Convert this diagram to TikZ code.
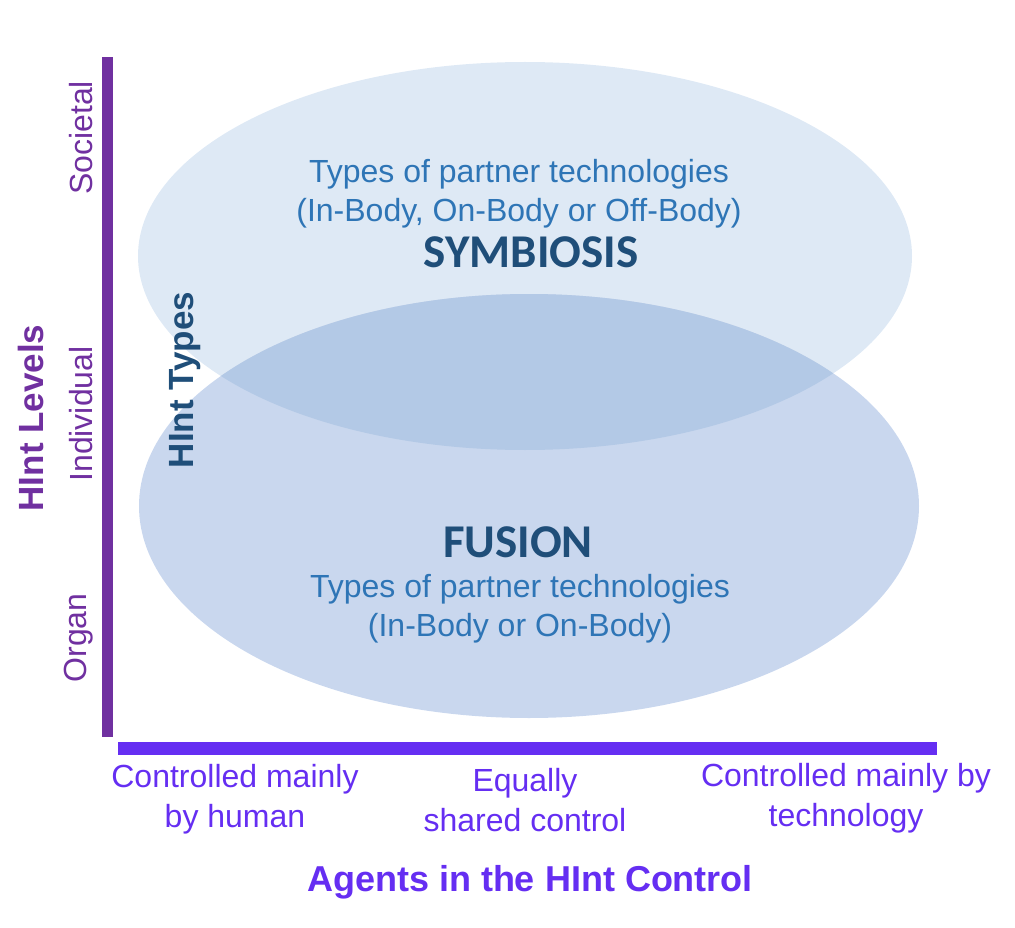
\documentclass[tikz,border=0pt]{standalone}
\usepackage{fontspec}
\setmainfont{Liberation Sans}
\newfontfamily\calib{Carlito}
\definecolor{vpurple}{HTML}{7030A0}
\definecolor{hviolet}{HTML}{652EF2}
\definecolor{topfill}{HTML}{DEE9F5}
\definecolor{botfill}{HTML}{C9D7EE}
\definecolor{ovfill}{HTML}{B3C9E6}
\definecolor{txtblue}{HTML}{2E75B6}
\definecolor{darkblue}{HTML}{1F4E79}
\tikzset{
  body/.style={text=txtblue, align=center, font=\fontsize{32}{39}\selectfont, inner sep=0pt},
  title/.style={text=darkblue, font=\calib\bfseries\fontsize{47}{50}\selectfont, inner sep=0pt},
  level/.style={text=vpurple, rotate=90, font=\fontsize{32}{36}\selectfont, inner sep=0pt},
  agent/.style={text=hviolet, align=center, font=\fontsize{32}{40}\selectfont, inner sep=0pt},
}
\begin{document}
\begin{tikzpicture}[x=1pt,y=-1pt]
\useasboundingbox (0,0) rectangle (1015,928);
% ellipses
\fill[topfill] (525,256) ellipse [x radius=387, y radius=194];
\fill[botfill] (529,506) ellipse [x radius=390, y radius=212];
\begin{scope}
\clip (525,256) ellipse [x radius=387, y radius=194];
\fill[ovfill] (529,506) ellipse [x radius=390, y radius=212];
\end{scope}
% axes
\fill[vpurple] (102,57) rectangle (113,737);
\fill[hviolet] (118,742) rectangle (937,755);
% texts
\node[body] (t1) at (519,194) {Types of partner technologies\\(In-Body, On-Body or Off-Body)};
\node[title] (sym) at (531,252) {SYMBIOSIS};
\node[title] (fus) at (518,542) {FUSION};
\node[body] (t2) at (520,609) {Types of partner technologies\\(In-Body or On-Body)};
\node[level] (soc) at (81,138) {Societal};
\node[level] (ind) at (81,414) {Individual};
\node[level] (org) at (79,638) {Organ};
\node[rotate=90, text=vpurple, font=\bfseries\fontsize{35}{40}\selectfont, inner sep=0pt] (lev) at (31,418) {HInt Levels};
\node[rotate=90, text=darkblue, font=\bfseries\fontsize{35}{40}\selectfont, inner sep=0pt] (typ) at (185,380) {HInt Types};
\node[agent] (a1) at (235,799) {Controlled mainly\\by human};
\node[agent] (a2) at (525,800) {Equally\\shared control};
\node[agent] (a3) at (846,798) {Controlled mainly by\\technology};
\node[text=hviolet, font=\bfseries\fontsize{36}{40}\selectfont, inner sep=0pt] (ag) at (530,882) {Agents in the HInt Control};
\end{tikzpicture}
\end{document}
